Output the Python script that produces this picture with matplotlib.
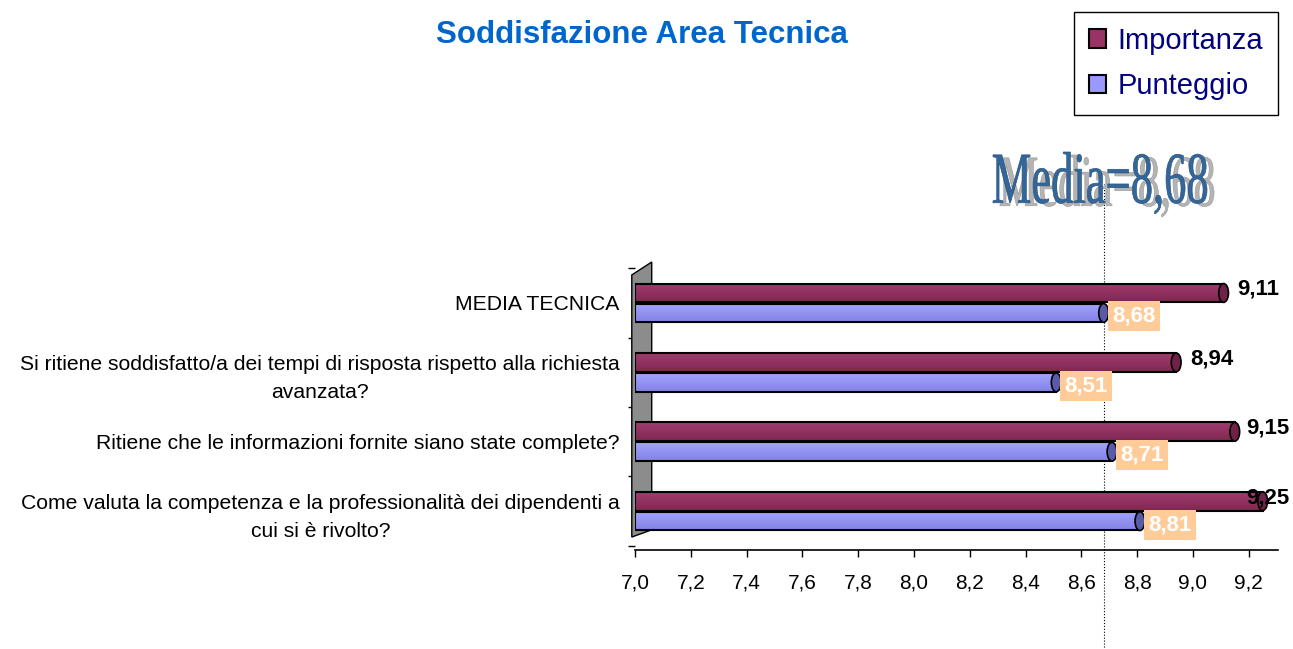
import matplotlib
matplotlib.use("Agg")
import matplotlib.pyplot as plt
import numpy as np
from matplotlib.patches import Patch, Polygon, Ellipse, PathPatch
from matplotlib.textpath import TextPath
from matplotlib.font_manager import FontProperties
from matplotlib.transforms import Affine2D, blended_transform_factory
from matplotlib.ticker import FuncFormatter

plt.rcParams["font.family"] = ["Liberation Sans", "DejaVu Sans"]

# categories from bottom to top
categories = [
    "Come valuta la competenza e la professionalità dei dipendenti a\ncui si è rivolto?",
    "Ritiene che le informazioni fornite siano state complete?",
    "Si ritiene soddisfatto/a dei tempi di risposta rispetto alla richiesta\navanzata?",
    "MEDIA TECNICA",
]
importanza = [9.25, 9.15, 8.94, 9.11]
punteggio = [8.81, 8.71, 8.51, 8.68]
media = 8.68
x_ticks = [7.0, 7.2, 7.4, 7.6, 7.8, 8.0, 8.2, 8.4, 8.6, 8.8, 9.0, 9.2]

base = 7.0
imp_color = "#993366"
pun_color = "#9999FF"

W, H = 1293, 649
fig = plt.figure(figsize=(W / 100, H / 100), dpi=100)
ax = fig.add_axes([635 / W, 99 / H, 643 / W, 288 / H])

y = np.arange(len(categories))
bh = 0.27
off = 0.144


def gradient_bars(bars, top, bottom):
    grad = np.linspace(0, 1, 50).reshape(-1, 1)
    cmap = matplotlib.colors.LinearSegmentedColormap.from_list("g", [bottom, top])
    for b in bars:
        x0, y0 = b.get_x(), b.get_y()
        im = ax.imshow(grad, cmap=cmap, aspect="auto", origin="lower",
                       extent=[x0, x0 + b.get_width(), y0, y0 + b.get_height()],
                       zorder=3)
        im.set_clip_path(b)


bars_i = ax.barh(y + off, np.array(importanza) - base, left=base, height=bh,
                 color=imp_color, edgecolor="black", linewidth=1.5, zorder=3)
bars_p = ax.barh(y - off, np.array(punteggio) - base, left=base, height=bh,
                 color=pun_color, edgecolor="black", linewidth=1.5, zorder=3)
gradient_bars(bars_i, "#A23C70", "#7E2850")
gradient_bars(bars_p, "#A3A3FF", "#8282E6")
for b in list(bars_i) + list(bars_p):
    b.set_facecolor("none")
    b.set_zorder(4)

# cylinder caps
for yi, v in zip(y, importanza):
    ax.add_patch(Ellipse((v, yi + off), 0.035, bh, facecolor="#6E2248",
                         edgecolor="black", linewidth=1.2, zorder=5))
for yi, v in zip(y, punteggio):
    ax.add_patch(Ellipse((v, yi - off), 0.035, bh, facecolor="#5A5AA8",
                         edgecolor="black", linewidth=1.2, zorder=5))

# data labels
for yi, v in zip(y, importanza):
    ax.text(min(v + 0.05, 9.19), yi + off + 0.05, f"{v:.2f}".replace(".", ","),
            fontsize=16, fontweight="bold", color="black", ha="left",
            va="center", zorder=6, clip_on=False)
for yi, v in zip(y, punteggio):
    ax.text(v + 0.03, yi - off - 0.05, f"{v:.2f}".replace(".", ","),
            fontsize=16, fontweight="bold", color="white", ha="left",
            va="center", zorder=6, clip_on=False,
            bbox=dict(boxstyle="square,pad=0.2", facecolor="#FFCC99",
                      edgecolor="none"))

ax.set_xlim(base, 9.305)
ax.set_ylim(-0.56, 3.59)

# back wall
wall = Polygon([(-0.005, 0.045), (-0.005, 0.955), (0.026, 1.0), (0.026, 0.07)],
               closed=True, transform=ax.transAxes, facecolor="#8C8C8C",
               edgecolor="black", linewidth=1, clip_on=False, zorder=2)
ax.add_patch(wall)

# media line
trans = blended_transform_factory(ax.transData, ax.transAxes)
ax.plot([media, media], [-0.35, 1.27], transform=trans, color="black",
        linestyle=":", linewidth=0.8, clip_on=False, zorder=1)

for s in ["top", "right", "left"]:
    ax.spines[s].set_visible(False)
ax.spines["bottom"].set_linewidth(1.2)

ax.set_xticks(x_ticks)
ax.xaxis.set_major_formatter(FuncFormatter(lambda v, p: f"{v:.1f}".replace(".", ",")))
ax.tick_params(axis="x", length=5, width=1, pad=12, labelsize=15)

ax.set_yticks(np.arange(-0.5, len(categories), 1.0))
ax.set_yticklabels([])
ax.tick_params(axis="y", which="major", length=5, width=1)
ax.set_yticks(y, labels=categories, minor=True)
ax.tick_params(axis="y", which="minor", length=0, pad=11, labelsize=15.2)
for lbl in ax.get_yticklabels(minor=True):
    lbl.set_multialignment("center")
    lbl.set_linespacing(1.6)

# title
fig.text(642 / W, 1 - 35 / H, "Soddisfazione Area Tecnica", ha="center",
         va="center", fontsize=22.5, fontweight="bold", color="#0066CC")

# legend
handles = [Patch(facecolor=imp_color, edgecolor="black", linewidth=1.5),
           Patch(facecolor=pun_color, edgecolor="black", linewidth=1.5)]
leg = fig.legend(handles, ["Importanza", "Punteggio"], loc="upper right",
                 bbox_to_anchor=(1278 / W, 1 - 12 / H), fontsize=21,
                 labelcolor="#000080", frameon=True, fancybox=False,
                 edgecolor="black", framealpha=1, handlelength=0.6,
                 handleheight=0.6, borderpad=0.5, labelspacing=0.6,
                 handletextpad=0.4, borderaxespad=0)
leg.get_frame().set_linewidth(1.0)

# "Media=8,68" word art
tp = TextPath((0, 0), f"Media={media:.2f}".replace(".", ","), size=100,
              prop=FontProperties(family="Liberation Serif"))
ext = tp.get_extents()
x0, x1, yb, yt = 993, 1207, H - 214, H - 152
sx = (x1 - x0) / ext.width
sy = (yt - yb) / ext.height
for dx, dy, fc, ec in [(7, -3, "#B4B4B4", "#A0A0A0"), (0, 0, "#336699", "#2A5580")]:
    tr = (Affine2D().translate(-ext.x0, -ext.y0).scale(sx, sy)
          .translate(x0 + dx, yb + dy).scale(1 / W, 1 / H) + fig.transFigure)
    fig.patches.append(PathPatch(tp, transform=tr, facecolor=fc, edgecolor=ec,
                                 linewidth=0.5, zorder=10))

fig.savefig("out.png", dpi=100)
